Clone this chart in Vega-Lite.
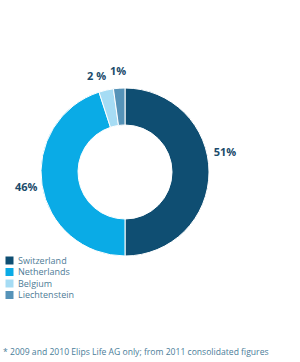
{
  "$schema": "https://vega.github.io/schema/vega-lite/v6.json",
  "width": 168,
  "height": 168,
  "autosize": "none",
  "padding": {"left": 41, "top": 88, "right": 91, "bottom": 106},
  "background": "white",
  "data": {
    "values": [
      {"country": "Switzerland", "share": 50, "label": "51%", "rank": 1},
      {"country": "Netherlands", "share": 45, "label": "46%", "rank": 2},
      {"country": "Belgium", "share": 2.8, "label": "2 %", "rank": 3},
      {"country": "Liechtenstein", "share": 2.2, "label": "1%", "rank": 4}
    ]
  },
  "title": {
    "text": "* 2009 and 2010 Elips Life AG only; from 2011 consolidated figures",
    "orient": "bottom",
    "anchor": "start",
    "frame": "group",
    "offset": 48,
    "dx": -38,
    "font": "Open Sans",
    "fontSize": 8.6,
    "fontWeight": "normal",
    "color": "#4a7d99"
  },
  "encoding": {
    "theta": {"field": "share", "type": "quantitative", "stack": true},
    "order": {"field": "rank", "type": "quantitative"}
  },
  "layer": [
    {
      "mark": {"type": "arc", "outerRadius": 84, "innerRadius": 47, "stroke": "white", "strokeWidth": 1},
      "encoding": {
        "color": {
          "field": "country",
          "type": "nominal",
          "sort": ["Switzerland", "Netherlands", "Belgium", "Liechtenstein"],
          "scale": {
            "domain": ["Switzerland", "Netherlands", "Belgium", "Liechtenstein"],
            "range": ["#0f4e72", "#0aabe6", "#a6dcf4", "#5693b8"]
          },
          "legend": {
            "title": null,
            "orient": "none",
            "legendX": -36,
            "legendY": 168,
            "symbolType": "square",
            "symbolSize": 64,
            "symbolStrokeWidth": 0,
            "labelFont": "Open Sans",
            "labelFontSize": 9,
            "labelColor": "#4d7b96",
            "rowPadding": 1.5,
            "labelOffset": 4
          }
        }
      }
    },
    {
      "mark": {"type": "text", "radius": 100, "font": "Open Sans", "fontSize": 11, "fontWeight": "bold", "fill": "#1b4b6b"},
      "encoding": {
        "text": {"condition": {"test": "datum.country === 'Netherlands' || datum.country === 'Liechtenstein'", "field": "label"}, "value": ""}
      }
    },
    {
      "mark": {"type": "text", "radius": 100, "dx": -6, "dy": 2, "font": "Open Sans", "fontSize": 11, "fontWeight": "bold", "fill": "#1b4b6b"},
      "encoding": {
        "text": {"condition": {"test": "datum.country === 'Belgium'", "field": "label"}, "value": ""}
      }
    },
    {
      "mark": {"type": "text", "radius": 100, "dy": -19, "font": "Open Sans", "fontSize": 11, "fontWeight": "bold", "fill": "#1b4b6b"},
      "encoding": {
        "text": {"condition": {"test": "datum.country === 'Switzerland'", "field": "label"}, "value": ""}
      }
    }
  ]
}
